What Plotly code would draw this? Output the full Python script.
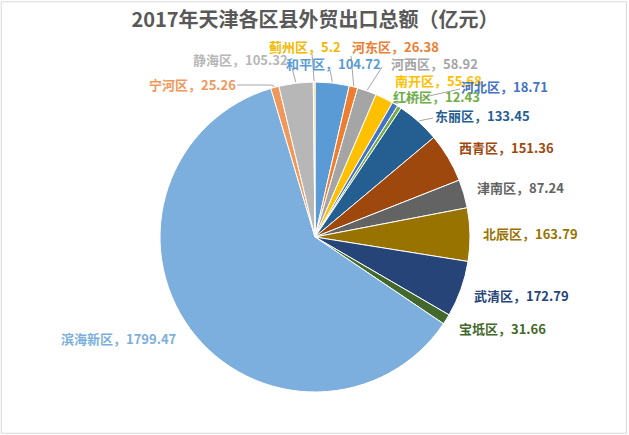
import math
import plotly.graph_objects as go

districts = ["和平区", "河东区", "河西区", "南开区", "河北区", "红桥区", "东丽区", "西青区",
             "津南区", "北辰区", "武清区", "宝坻区", "滨海新区", "宁河区", "静海区", "蓟州区"]
values = [104.72, 26.38, 58.92, 55.68, 18.71, 12.43, 133.45, 151.36,
          87.24, 163.79, 172.79, 31.66, 1799.47, 25.26, 105.32, 5.2]
title = "2017年天津各区县外贸出口总额（亿元）"

# ---- styling / layout (not data) ----
colors = ["#5B9BD5", "#ED7D31", "#A5A5A5", "#FFC000", "#4472C4", "#70AD47",
          "#255E91", "#9E480E", "#636363", "#997300", "#264478", "#43682B",
          "#7CAFDD", "#F1975A", "#B7B7B7", "#FFCD33"]
label_colors = ["#5B9BD5", "#ED7D31", "#A5A5A5", "#FFC000", "#4472C4", "#70AD47",
                "#255E91", "#9E480E", "#636363", "#997300", "#264478", "#43682B",
                "#7CAFDD", "#F1975A", "#B7B7B7", "#F2B800"]
# label centre positions in pixels (layout)
label_pos = [(333, 63), (395, 47), (434, 63), (438, 80), (504, 86), (436, 96),
             (483, 116), (506, 147), (520, 187), (530, 234), (521, 295), (502, 328),
             (119, 338), (192, 85), (240, 59), (305, 47)]
# leader line start points at label side (pixels), None = no leader
leader_from = [(330, 70), (351, 56), (382, 67), None, (460, 89), None,
               (433, 118), None, None, None, None, None,
               None, (237, 85), (292, 68), (312, 54)]

W, H = 629, 435
cx, cy, r = 315, 237, 155

def px(x):
    return x / W

def py(y):
    return 1 - y / H

fig = go.Figure(go.Pie(
    labels=districts, values=values, textinfo="none",
    sort=False, direction="clockwise", rotation=0,
    marker=dict(colors=colors, line=dict(color="white", width=1)),
    showlegend=False, hoverinfo="label+value",
    domain=dict(x=[px(cx - r), px(cx + r)], y=[py(cy + r), py(cy - r)]),
))

total = sum(values)
shapes = [dict(type="rect", xref="paper", yref="paper", x0=0.002, y0=0.004, x1=0.996, y1=0.996,
               line=dict(color="#D9D9D9", width=1))]
annotations = []
cum = 0.0
for name, v, col, (lx, ly), lf in zip(districts, values, label_colors, label_pos, leader_from):
    mid = (cum + v / 2) / total * 2 * math.pi
    cum += v
    ex = cx + (r + 1) * math.sin(mid)
    ey = cy - (r + 1) * math.cos(mid)
    if lf is not None:
        fx, fy = lf
        path = f"M {px(fx)} {py(fy)} "
        if name == "宁河区":
            path += f"L {px(ex - 4)} {py(fy)} "
        path += f"L {px(ex)} {py(ey)}"
        shapes.append(dict(type="path", xref="paper", yref="paper", path=path,
                           line=dict(color="#A6A6A6", width=1), layer="above"))
    annotations.append(dict(
        x=px(lx), y=py(ly), xref="paper", yref="paper", showarrow=False,
        xanchor="center", yanchor="middle",
        text=f"<b>{name}，{v:g}</b>",
        font=dict(family="Noto Sans CJK SC", size=13, color=col),
    ))

fig.update_layout(
    width=W, height=H, margin=dict(l=0, r=0, t=0, b=0),
    paper_bgcolor="white", plot_bgcolor="white",
    title=dict(text=f"<b>{title}</b>", x=px(cx), xanchor="center", y=py(20), yanchor="middle",
               font=dict(family="Noto Sans CJK SC", size=20, color="#595959")),
    shapes=shapes, annotations=annotations,
)
fig.write_html("out.html")
